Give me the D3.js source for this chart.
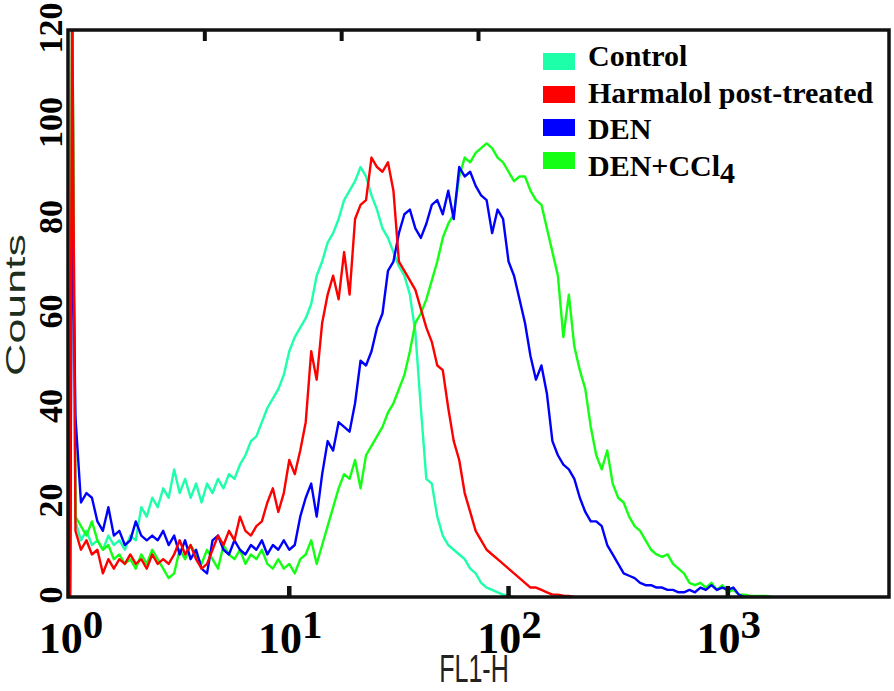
<!DOCTYPE html>
<html>
<head>
<meta charset="utf-8">
<script src="https://cdn.jsdelivr.net/npm/d3@7"></script>
<style>
  html, body { margin: 0; padding: 0; background: #fff; }
  svg { display: block; }
</style>
</head>
<body>
<svg id="chart" width="894" height="691"></svg>
<script>
// ---------- DATA ----------
// FL1-H channel positions as log10 values (first two are the channel-1 spike)
const fl1Log = [0, 0.01].concat(d3.range(1, 129).map(k => +(k * 0.025).toFixed(3)));

const seriesNames = ["Control", "Harmalol post-treated", "DEN", "DEN+CCl4"];
const seriesColors = ["#1effaa", "#ff0000", "#0000ff", "#14ff14"];

const controlCounts = [0, 130,
  16,12,14,11,12,10,13,11,12,10,
  13,12,19,17,21,19,23,21,27,22,
  25,21,24,20,24,22,25,23,26,25,
  28,30,33,34,37,40,42,44,47,52,
  55,57,59,62,68,71,75,77,80,84,
  86,88,91,89,85,82,78,76,73,70,
  68,64,56,40,25,24,17,13,11,10,
  9,8,6,5,3,2,1.5,1,0.5,0.3,0];

const harmalolCounts = [0, 130,
  14,10,12,9,10,5,8,6,8,7,
  9,7,8,6,9,7,8,7,9,12,
  9,11,8,6,7,10,13,11,14,12,
  17,14,13,15,16,20,23,18,22,29,
  26,31,37,52,46,58,64,68,63,73,
  64,80,83,84,93,91,90,92,86,71,
  69,67,65,61,57,54,49,48,40,33,
  29,22,18,14,12,10,9,8,7,6,
  5,4,3,2,2,1.5,1,0.5,0.5,0.3,0.2,0];

const denCounts = [0, 88,
  38,20,22,21,16,14,19,13,14,11,
  12,16,13,12,13,12,14,11,13,9,
  12,8,10,6,5,12,13,10,9,12,
  10,9,11,10,12,9,11,10,12,10,
  11,17,21,24,17,26,33,31,37,36,
  35,41,50,49,52,57,60,69,71,77,
  81,82,78,76,79,83,84,81,86,80,
  91,89,90,87,85,84,77,82,80,71,
  68,63,58,51,46,49,43,33,30,28,
  27,25,21,18,16,16,15,11,9,7,
  5,4.5,4,3,2.5,2.5,2,2,1.5,1.5,
  1,1,1.5,1,2,1.5,2.5,1.5,2,1.5,2,0.5,0];

const denCcl4Counts = [0, 130,
  17,15,13,16,12,10,11,8,9,7,
  8,6,9,7,10,8,6,4,5,10,
  8,11,9,7,10,8,6,11,9,8,
  10,7,9,8,10,7,6,8,6,7,
  5,8,9,12,7,11,15,19,23,26,
  25,29,23,30,32,34,36,39,41,44,
  47,52,58,60,63,67,71,76,79,81,
  89,93,92,94,95,96,95,93,92,90,
  88,89,89,86,84,83,78,73,68,55,
  64,53,48,44,36,30,27,31,24,21,
  20,17,15,14,12,10,9,8.5,9,7,
  6,5,3,2.5,3,2,3,1.5,2.5,1,
  1.5,0.5,0.5,0.3,0.2,0.2,0.2,0];

const yTickValues = [0, 20, 40, 60, 80, 100, 120];
const xTickDecades = [0, 1, 2, 3];          // 10^0 ... 10^3
const topTickValues = [1, 2, 3];

// ---------- LAYOUT ----------
const svg = d3.select("#chart");
const frame = { left: 68, right: 889, top: 30, bottom: 597 };

const x = d3.scaleLog().domain([1, Math.pow(10, 3.735)]).range([70, frame.right]);
const y = d3.scaleLinear().domain([0, 120]).range([frame.bottom, frame.top]);
const xTop = d3.scaleLinear().domain([0, 6]).range([frame.left, frame.right]);

svg.append("defs").append("clipPath").attr("id", "plotClip")
  .append("rect")
  .attr("x", frame.left).attr("y", frame.top)
  .attr("width", frame.right - frame.left).attr("height", frame.bottom - frame.top);

// ---------- CURVES ----------
const allSeries = [
  { name: seriesNames[0], color: seriesColors[0], counts: controlCounts },
  { name: seriesNames[3], color: seriesColors[3], counts: denCcl4Counts },
  { name: seriesNames[2], color: seriesColors[2], counts: denCounts },
  { name: seriesNames[1], color: seriesColors[1], counts: harmalolCounts }
];

const line = d3.line()
  .x(d => x(Math.pow(10, d[0])))
  .y(d => y(d[1]));

const plot = svg.append("g").attr("clip-path", "url(#plotClip)");
allSeries.forEach(s => {
  const pts = s.counts.map((c, i) => [fl1Log[i], c]);
  plot.append("path")
    .datum(pts)
    .attr("fill", "none")
    .attr("stroke", s.color)
    .attr("stroke-width", 2.4)
    .attr("stroke-linejoin", "round")
    .attr("d", line);
});

// ---------- FRAME ----------
svg.append("rect")
  .attr("x", frame.left).attr("y", frame.top)
  .attr("width", frame.right - frame.left).attr("height", frame.bottom - frame.top)
  .attr("fill", "none").attr("stroke", "#111").attr("stroke-width", 3.5);

// bottom ticks (inward)
svg.append("g").selectAll("line").data(xTickDecades.slice(1)).join("line")
  .attr("x1", d => x(Math.pow(10, d))).attr("x2", d => x(Math.pow(10, d)))
  .attr("y1", frame.bottom).attr("y2", frame.bottom - 11)
  .attr("stroke", "#111").attr("stroke-width", 4.5);

// top ticks (inward)
svg.append("g").selectAll("line").data(topTickValues).join("line")
  .attr("x1", d => xTop(d)).attr("x2", d => xTop(d))
  .attr("y1", frame.top).attr("y2", frame.top + 11)
  .attr("stroke", "#111").attr("stroke-width", 4);

// ---------- X TICK LABELS ----------
const xl = svg.append("g").selectAll("text").data(xTickDecades).join("text")
  .attr("x", d => x(Math.pow(10, d)) + 1)
  .attr("y", 653)
  .attr("text-anchor", "middle")
  .attr("font-family", "'Liberation Serif', 'Times New Roman', serif")
  .attr("font-weight", "bold")
  .attr("font-size", 44)
  .attr("fill", "#000");
xl.append("tspan").text("10");
xl.append("tspan").attr("dy", -15).attr("font-size", 41).text(d => String(d));

// ---------- Y TICK LABELS ----------
svg.append("g").selectAll("text").data(yTickValues).join("text")
  .attr("transform", d => `translate(62,${y(d) - 2}) rotate(-90)`)
  .attr("text-anchor", "middle")
  .attr("font-family", "'Liberation Serif', 'Times New Roman', serif")
  .attr("font-weight", "bold")
  .attr("font-size", 34)
  .attr("fill", "#000")
  .text(d => d);

// ---------- AXIS TITLES ----------
svg.append("text")
  .attr("transform", "translate(25,305) rotate(-90) scale(1.6,1)")
  .attr("text-anchor", "middle")
  .attr("font-family", "'Liberation Sans', Arial, sans-serif")
  .attr("font-size", 28)
  .attr("fill", "#1c2e1c")
  .text("Counts");

svg.append("text")
  .attr("transform", "translate(474,682) scale(0.66,1)")
  .attr("text-anchor", "middle")
  .attr("font-family", "'Liberation Sans', Arial, sans-serif")
  .attr("font-size", 38)
  .attr("fill", "#222")
  .text("FL1-H");

// ---------- LEGEND ----------
const legend = svg.append("g");
seriesNames.forEach((name, i) => {
  legend.append("rect")
    .attr("x", 543).attr("y", 53 + 33 * i)
    .attr("width", 32).attr("height", 17)
    .attr("fill", seriesColors[i]);
  const t = legend.append("text")
    .attr("x", 588).attr("y", 66 + 36.7 * i)
    .attr("font-family", "'Liberation Serif', 'Times New Roman', serif")
    .attr("font-weight", "bold")
    .attr("font-size", 30)
    .attr("fill", "#000");
  if (name === "DEN+CCl4") {
    t.append("tspan").text("DEN+CCl");
    t.append("tspan").attr("dy", 7).text("4");
  } else {
    t.text(name);
  }
});
</script>
</body>
</html>
